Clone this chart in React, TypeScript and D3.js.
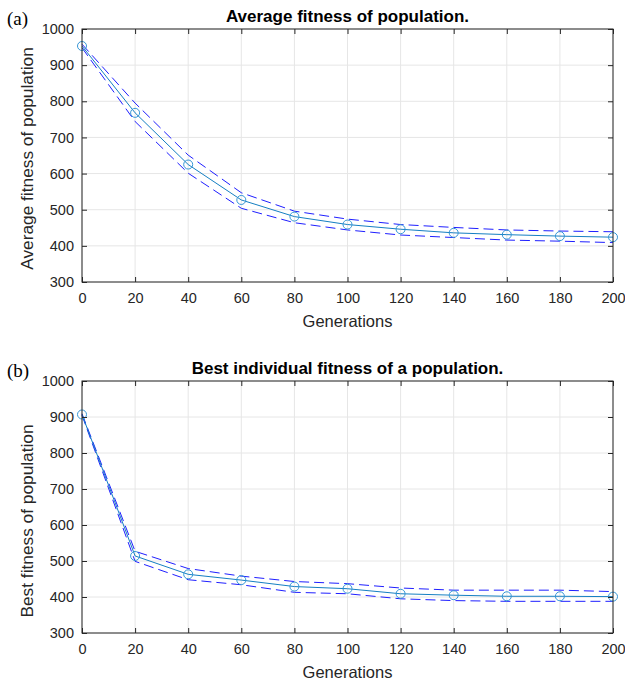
import { useEffect, useRef } from "react";
import * as d3 from "d3";

// x values (generations)
const generations = [0, 20, 40, 60, 80, 100, 120, 140, 160, 180, 200];

// (a) average fitness of population
const avgMean = [953, 768, 625, 527, 481, 459, 446, 436, 431, 427, 424];
const avgUpper = [958, 795, 651, 547, 496, 474, 459, 451, 444, 441, 439];
const avgLower = [948, 744, 601, 504, 464, 444, 430, 423, 416, 413, 409];

// (b) best individual fitness
const bestMean = [907, 514, 463, 447, 429, 423, 409, 405, 402, 402, 401];
const bestUpper = [909, 527, 479, 458, 443, 437, 425, 419, 419, 419, 415];
const bestLower = [905, 499, 448, 434, 413, 409, 395, 390, 388, 388, 388];

const xTicks = [0, 20, 40, 60, 80, 100, 120, 140, 160, 180, 200];
const yTicks = [300, 400, 500, 600, 700, 800, 900, 1000];

const FONT = "'Liberation Sans', Arial, sans-serif";

function drawPanel(svg, opts) {
  const { top, bottom, left, right, title, tag, yLabel, yLabelShift, mean, upper, lower } = opts;

  const x = d3.scaleLinear().domain([0, 200]).range([left, right]);
  const y = d3.scaleLinear().domain([300, 1000]).range([bottom, top]);

  const g = svg.append("g");

  // grid
  g.append("g")
    .selectAll("line")
    .data(xTicks)
    .enter()
    .append("line")
    .attr("x1", d => x(d))
    .attr("x2", d => x(d))
    .attr("y1", top)
    .attr("y2", bottom)
    .attr("stroke", "#e6e6e6")
    .attr("stroke-width", 1);

  g.append("g")
    .selectAll("line")
    .data(yTicks)
    .enter()
    .append("line")
    .attr("x1", left)
    .attr("x2", right)
    .attr("y1", d => y(d))
    .attr("y2", d => y(d))
    .attr("stroke", "#e6e6e6")
    .attr("stroke-width", 1);

  const line = d3.line()
    .x((d, i) => x(generations[i]))
    .y(d => y(d));

  // dashed bounds
  [upper, lower].forEach(arr => {
    g.append("path")
      .datum(arr)
      .attr("fill", "none")
      .attr("stroke", "#1f1fff")
      .attr("stroke-width", 1)
      .attr("stroke-dasharray", "10,5")
      .attr("d", line);
  });

  // mean line
  g.append("path")
    .datum(mean)
    .attr("fill", "none")
    .attr("stroke", "#157fc2")
    .attr("stroke-width", 1)
    .attr("d", line);

  // markers
  g.selectAll("circle.m")
    .data(mean)
    .enter()
    .append("circle")
    .attr("cx", (d, i) => x(generations[i]))
    .attr("cy", d => y(d))
    .attr("r", 4.5)
    .attr("fill", "none")
    .attr("stroke", "#3596d6")
    .attr("stroke-width", 1);

  // box
  g.append("rect")
    .attr("x", left)
    .attr("y", top)
    .attr("width", right - left)
    .attr("height", bottom - top)
    .attr("fill", "none")
    .attr("stroke", "#262626")
    .attr("stroke-width", 1);

  const fmt = d3.format("d");

  // axes, ticks pointing inward on all four sides
  const xAxis = g.append("g")
    .attr("transform", `translate(0,${bottom})`)
    .call(d3.axisBottom(x).tickValues(xTicks).tickFormat(fmt).tickSizeInner(-5).tickSizeOuter(0).tickPadding(11));
  const xAxisTop = g.append("g")
    .attr("transform", `translate(0,${top})`)
    .call(d3.axisTop(x).tickValues(xTicks).tickSizeInner(-5).tickSizeOuter(0).tickFormat(""));
  const yAxis = g.append("g")
    .attr("transform", `translate(${left},0)`)
    .call(d3.axisLeft(y).tickValues(yTicks).tickFormat(fmt).tickSizeInner(-5).tickSizeOuter(0).tickPadding(8));
  const yAxisRight = g.append("g")
    .attr("transform", `translate(${right},0)`)
    .call(d3.axisRight(y).tickValues(yTicks).tickSizeInner(-5).tickSizeOuter(0).tickFormat(""));

  [xAxis, xAxisTop, yAxis, yAxisRight].forEach(a => {
    a.select(".domain").remove();
    a.selectAll("line").attr("stroke", "#262626");
    a.selectAll("text")
      .attr("fill", "#262626")
      .style("font-family", FONT)
      .style("font-size", "14.5px");
  });

  // title
  g.append("text")
    .attr("x", (left + right) / 2)
    .attr("y", top - 7)
    .attr("text-anchor", "middle")
    .style("font-family", FONT)
    .style("font-weight", "bold")
    .style("font-size", "17px")
    .attr("fill", "#000")
    .text(title);

  // panel tag
  g.append("text")
    .attr("x", 7)
    .attr("y", top - 4)
    .style("font-family", "'Liberation Serif', 'Times New Roman', serif")
    .style("font-size", "19px")
    .attr("fill", "#000")
    .text(tag);

  // x label
  g.append("text")
    .attr("x", (left + right) / 2)
    .attr("y", bottom + 45)
    .attr("text-anchor", "middle")
    .style("font-family", FONT)
    .style("font-size", "16.5px")
    .attr("fill", "#262626")
    .text("Generations");

  // y label
  g.append("text")
    .attr("transform", `translate(33,${(top + bottom) / 2 + yLabelShift}) rotate(-90)`)
    .attr("text-anchor", "middle")
    .style("font-family", FONT)
    .style("font-size", "17.3px")
    .attr("fill", "#262626")
    .text(yLabel);
}

export default function App() {
  const ref = useRef(null);

  useEffect(() => {
    if (!ref.current) return;
    const width = 625;
    const height = 680;

    const svg = d3
      .select(ref.current)
      .html("")
      .append("svg")
      .attr("width", width)
      .attr("height", height)
      .style("display", "block")
      .style("background", "#fff");

    drawPanel(svg, {
      top: 29, bottom: 282, left: 82, right: 613,
      title: "Average fitness of population.",
      tag: "(a)",
      yLabel: "Average fitness of population",
      yLabelShift: 3,
      mean: avgMean, upper: avgUpper, lower: avgLower,
    });

    drawPanel(svg, {
      top: 381, bottom: 633, left: 82, right: 613,
      title: "Best individual fitness of a population.",
      tag: "(b)",
      yLabel: "Best fitness of population",
      yLabelShift: 14,
      mean: bestMean, upper: bestUpper, lower: bestLower,
    });
  }, []);

  return <div ref={ref} style={{ position: "absolute", left: 0, top: 0 }}></div>;
}
